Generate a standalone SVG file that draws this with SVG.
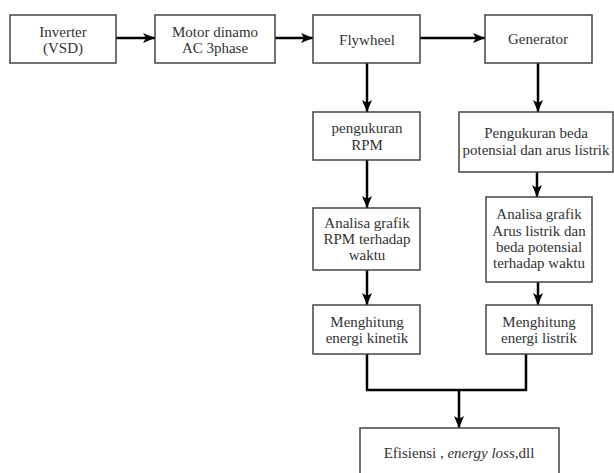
<svg xmlns="http://www.w3.org/2000/svg" width="614" height="473" viewBox="0 0 614 473">
<defs>
<style>
.box{fill:#fff;stroke:#444;stroke-width:1.5}
.t{font-family:"Liberation Serif","Times New Roman",Times,"DejaVu Serif",serif;font-size:15px;fill:#333;text-anchor:middle}
.c{fill:none;stroke:#000;stroke-width:2.5}
</style>
<marker id="ah" viewBox="0 0 12 10" refX="12" refY="5" markerWidth="12" markerHeight="10" markerUnits="userSpaceOnUse" orient="auto">
<path d="M0,0 L12,5 L0,10 L3,5 Z" fill="#000"/>
</marker>
</defs>
<rect width="614" height="473" fill="#fff"/>
<g id="connectors">
<line class="c" x1="116" y1="38" x2="155" y2="38" marker-end="url(#ah)"/>
<line class="c" x1="275" y1="38" x2="313" y2="38" marker-end="url(#ah)"/>
<line class="c" x1="420" y1="38" x2="485" y2="38" marker-end="url(#ah)"/>
<line class="c" x1="367" y1="63" x2="367" y2="112" marker-end="url(#ah)"/>
<line class="c" x1="538" y1="63" x2="538" y2="112" marker-end="url(#ah)"/>
<line class="c" x1="367" y1="160" x2="367" y2="208" marker-end="url(#ah)"/>
<line class="c" x1="537" y1="172" x2="537" y2="197" marker-end="url(#ah)"/>
<line class="c" x1="367" y1="270" x2="367" y2="305" marker-end="url(#ah)"/>
<line class="c" x1="538" y1="282" x2="538" y2="305" marker-end="url(#ah)"/>
<polyline class="c" points="367,354 367,390 526,390 526,354"/>
<line class="c" x1="459" y1="390" x2="459" y2="428" marker-end="url(#ah)"/>
</g>
<g id="inverter">
<rect class="box" x="10" y="15" width="106" height="48"/>
<text class="t" x="63" y="37">Inverter</text>
<text class="t" x="63" y="53">(VSD)</text>
</g>
<g id="motor">
<rect class="box" x="155" y="15" width="120" height="48"/>
<text class="t" x="215" y="37">Motor dinamo</text>
<text class="t" x="215" y="53">AC 3phase</text>
</g>
<g id="flywheel">
<rect class="box" x="313" y="15" width="107" height="48"/>
<text class="t" x="367" y="45">Flywheel</text>
</g>
<g id="generator">
<rect class="box" x="485" y="15" width="107" height="48"/>
<text class="t" x="538" y="44">Generator</text>
</g>
<g id="pengukuran-rpm">
<rect class="box" x="313" y="112" width="107" height="48"/>
<text class="t" x="367" y="133">pengukuran</text>
<text class="t" x="367" y="150">RPM</text>
</g>
<g id="pengukuran-beda">
<rect class="box" x="459" y="112" width="154" height="60"/>
<text class="t" x="536" y="138">Pengukuran beda</text>
<text class="t" x="536" y="155">potensial dan arus listrik</text>
</g>
<g id="analisa-rpm">
<rect class="box" x="313" y="208" width="107" height="62"/>
<text class="t" x="367" y="228">Analisa grafik</text>
<text class="t" x="367" y="244">RPM terhadap</text>
<text class="t" x="367" y="260">waktu</text>
</g>
<g id="analisa-arus">
<rect class="box" x="486" y="197" width="106" height="85"/>
<text class="t" x="539" y="219">Analisa grafik</text>
<text class="t" x="539" y="236">Arus listrik dan</text>
<text class="t" x="539" y="252">beda potensial</text>
<text class="t" x="539" y="268">terhadap waktu</text>
</g>
<g id="energi-kinetik">
<rect class="box" x="313" y="305" width="107" height="49"/>
<text class="t" x="367" y="327">Menghitung</text>
<text class="t" x="367" y="343">energi kinetik</text>
</g>
<g id="energi-listrik">
<rect class="box" x="486" y="305" width="106" height="49"/>
<text class="t" x="539" y="327">Menghitung</text>
<text class="t" x="539" y="343">energi listrik</text>
</g>
<g id="efisiensi">
<rect class="box" x="360" y="428" width="199" height="60"/>
<text class="t" x="459" y="458">Efisiensi , <tspan font-style="italic">energy loss</tspan>,dll</text>
</g>
</svg>
